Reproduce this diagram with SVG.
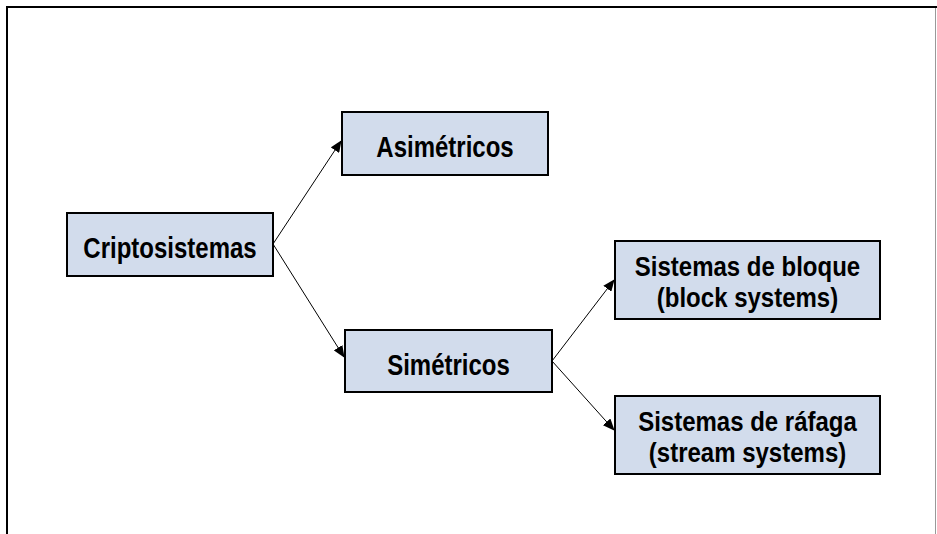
<svg xmlns="http://www.w3.org/2000/svg" width="937" height="534" viewBox="0 0 937 534">
<defs>
<marker id="ah" markerWidth="12" markerHeight="10" refX="11" refY="5" orient="auto" markerUnits="userSpaceOnUse">
<path d="M0,0 L12,5 L0,10 Z" fill="#000"/>
</marker>
<style>
.box{fill:#D2DCEC;stroke:#000;stroke-width:2}
.t{font-family:"Liberation Sans",Arial,sans-serif;font-weight:bold;font-size:24px;fill:#000;text-anchor:middle}
.c{stroke:#000;stroke-width:1;fill:none;marker-end:url(#ah)}
</style>
</defs>
<rect width="937" height="534" fill="#fff"/>
<g id="frame">
<line x1="6" y1="7" x2="937" y2="7" stroke="#000" stroke-width="2"/>
<line x1="7" y1="6" x2="7" y2="534" stroke="#000" stroke-width="2"/>
<line x1="935.5" y1="8" x2="935.5" y2="534" stroke="#999" stroke-width="1"/>
</g>
<g id="connectors">
<line class="c" x1="273" y1="244" x2="341" y2="141"/>
<line class="c" x1="273" y1="244" x2="344" y2="357"/>
<line class="c" x1="552" y1="361" x2="614" y2="280"/>
<line class="c" x1="552" y1="361" x2="614" y2="430"/>
</g>
<g id="n1"><rect class="box" x="67" y="213" width="206" height="63"/><text class="t" transform="translate(170,258) scale(1,1.2)">Criptosistemas</text></g>
<g id="n2"><rect class="box" x="342" y="112" width="206" height="63"/><text class="t" transform="translate(445,157) scale(1,1.2)">Asimétricos</text></g>
<g id="n3"><rect class="box" x="345" y="330" width="207" height="62"/><text class="t" transform="translate(448.5,375) scale(1,1.2)">Simétricos</text></g>
<g id="n4"><rect class="box" x="615" y="241" width="265" height="78"/><text class="t" transform="translate(747.5,276) scale(1,1.15)">Sistemas de bloque</text><text class="t" transform="translate(747.5,307) scale(1,1.15)">(block systems)</text></g>
<g id="n5"><rect class="box" x="615" y="396" width="265" height="78"/><text class="t" transform="translate(747.5,431) scale(1,1.15)">Sistemas de ráfaga</text><text class="t" transform="translate(747.5,462) scale(1,1.15)">(stream systems)</text></g>
</svg>
